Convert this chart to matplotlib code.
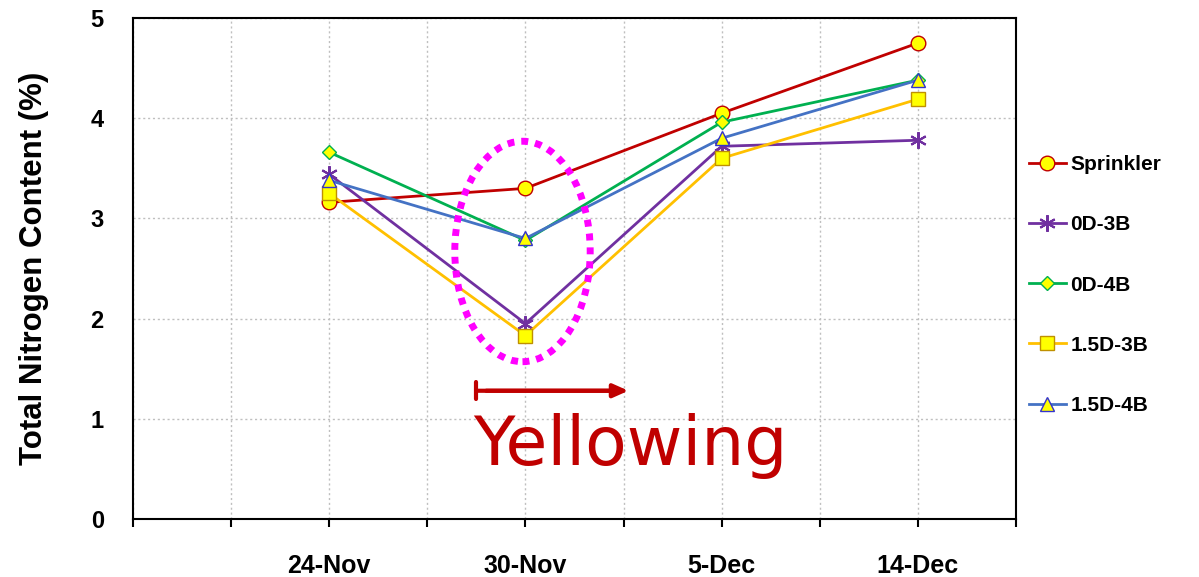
import matplotlib
matplotlib.use("Agg")
import matplotlib.pyplot as plt
from matplotlib.patches import Ellipse

dates = ["24-Nov", "30-Nov", "5-Dec", "14-Dec"]
x_pos = [2, 4, 6, 8]

sprinkler = [3.16, 3.30, 4.05, 4.75]
d0_3b = [3.44, 1.95, 3.72, 3.78]
d0_4b = [3.66, 2.78, 3.96, 4.38]
d15_3b = [3.25, 1.83, 3.60, 4.19]
d15_4b = [3.38, 2.80, 3.80, 4.38]

series = [
    ("Sprinkler", sprinkler, dict(color="#C00000", marker="o", mfc="#FFFF00", mec="#C00000", ms=10.5)),
    ("0D-3B", d0_3b, dict(color="#7030A0", marker=(6, 2, 0), mfc="#7030A0", mec="#7030A0", ms=12, mew=1.5)),
    ("0D-4B", d0_4b, dict(color="#00B050", marker="D", mfc="#FFFF00", mec="#00B050", ms=7)),
    ("1.5D-3B", d15_3b, dict(color="#FFC000", marker="s", mfc="#FFFF00", mec="#BF9000", ms=10.5)),
    ("1.5D-4B", d15_4b, dict(color="#4472C4", marker="^", mfc="#FFFF00", mec="#3333CC", ms=10.5)),
]

plt.rcParams["font.family"] = ["Liberation Sans", "DejaVu Sans"]

fig = plt.figure(figsize=(11.99, 5.77), dpi=100)
ax = fig.add_axes([0.1109, 0.1005, 0.7365, 0.8683])

for name, vals, st in series:
    ax.plot(x_pos, vals, lw=2, label=name, zorder=3, **st)

ax.set_xlim(0, 9)
ax.set_ylim(0, 5)
ax.set_xticks(range(0, 10))
ax.set_xticklabels(["" if i not in x_pos else dates[x_pos.index(i)] for i in range(10)],
                   fontsize=18, fontweight="bold")
ax.tick_params(axis="x", direction="out", length=6, width=1.5, pad=19)
ax.set_yticks(range(0, 6))
ax.set_yticklabels([str(i) for i in range(6)], fontsize=17, fontweight="bold")
ax.tick_params(axis="y", length=0, pad=21)
ax.grid(True, color="#BFBFBF", linestyle=(0, (1.5, 2)), lw=1)
for sp in ax.spines.values():
    sp.set_linewidth(1.5)
    sp.set_color("black")

ax.set_ylabel("Total Nitrogen Content (%)", fontsize=22.5, fontweight="bold", labelpad=30)

# highlight of the dip at 30-Nov
ell = Ellipse((3.97, 2.67), 1.38, 2.2, fill=False, edgecolor="#FF00FF",
              lw=5, linestyle=(0, (1, 1)), zorder=4)
ax.add_patch(ell)

ax.annotate("", xy=(4.98, 1.28), xytext=(3.5, 1.28),
            arrowprops=dict(arrowstyle="|-|,widthA=0.6,widthB=0", color="#C00000", lw=3,
                            shrinkA=0, shrinkB=0))
ax.annotate("", xy=(5.05, 1.28), xytext=(3.6, 1.28),
            arrowprops=dict(arrowstyle="-|>,head_length=0.9,head_width=0.4", color="#C00000",
                            lw=3, shrinkA=0, shrinkB=0))
ax.text(5.07, 0.73, "Yellowing", color="#C00000", fontsize=49, ha="center", va="center",
        family=["DejaVu Sans"])

leg = ax.legend(loc="center left", bbox_to_anchor=(1.0, 0.467), frameon=False,
                prop=dict(size=15, weight="bold"), labelspacing=1.98,
                handlelength=1.8, handletextpad=0.2, borderaxespad=0.2)

fig.savefig("out.png", dpi=100)
